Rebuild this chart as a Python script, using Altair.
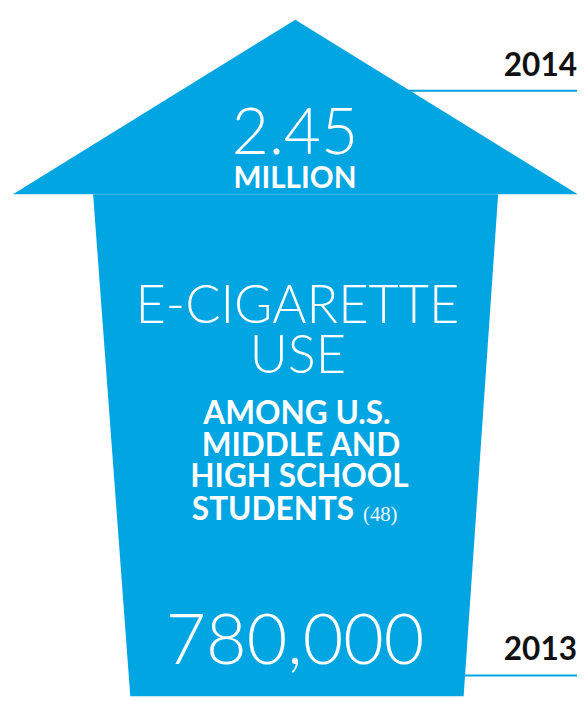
import altair as alt
import pandas as pd

BLUE = "#00a5e1"

# Arrowhead (triangle) outline, page-pixel coordinates
head_x = [13, 299.3, 585.7]
head_top = [192, 15, 192]
head_bottom = [192, 192, 192]

# Arrow body (trapezoid narrowing downward)
body_x = [94.3, 132, 470, 505]
body_top = [192, 192, 192, 192]
body_bottom = [192, 701, 701, 192]

# Year labels and their leader lines
year_labels = ["2014", "2013"]
year_x = [585, 585]
year_y = [72, 664]
rule_y = [87, 680]
rule_x_start = [400, 460]
rule_x_end = [585, 585]

# Light (thin) headline texts
light_labels = ["2.45", "E-CIGARETTE", "USE", "780,000"]
light_x = [299, 301.5, 302, 299]
light_y = [151.5, 323, 373, 668]
light_size = [65, 53, 53, 71]

# Bold white texts
bold_labels = ["MILLION", "AMONG U.S.", "MIDDLE AND", "HIGH SCHOOL"]
bold_x = [299, 301, 305, 303.5]
bold_y = [186, 425, 457, 489]
bold_size = [30, 32, 32, 32]

last_label = ["STUDENTS"]
last_x = [359]
last_y = [522]

ref_label = ["(48)"]
ref_x = [368]
ref_y = [523]

W, H = 579, 693
xs = alt.Scale(domain=[8, 587], zero=False, nice=False)
ys = alt.Scale(domain=[8, 8 + H], zero=False, nice=False, reverse=True)

head_df = pd.DataFrame({"x": head_x, "y": head_top, "y2": head_bottom})
body_df = pd.DataFrame({"x": body_x, "y": body_top, "y2": body_bottom})
rule_df = pd.DataFrame({"x1": rule_x_start, "x2": rule_x_end, "y": rule_y})
year_df = pd.DataFrame({"t": year_labels, "x": year_x, "y": year_y})
light_df = pd.DataFrame({"t": light_labels, "x": light_x, "y": light_y, "s": light_size})
bold_df = pd.DataFrame({"t": bold_labels, "x": bold_x, "y": bold_y, "s": bold_size})
last_df = pd.DataFrame({"t": last_label, "x": last_x, "y": last_y})
ref_df = pd.DataFrame({"t": ref_label, "x": ref_x, "y": ref_y})

rules = alt.Chart(rule_df).mark_rule(color=BLUE, strokeWidth=2).encode(
    x=alt.X("x1:Q", scale=xs, axis=None),
    x2="x2:Q",
    y=alt.Y("y:Q", scale=ys, axis=None),
)


def shape(df):
    return alt.Chart(df).mark_area(color=BLUE, opacity=1, interpolate="linear").encode(
        x=alt.X("x:Q", scale=xs, axis=None),
        y=alt.Y("y:Q", scale=ys, axis=None, stack=None),
        y2="y2:Q",
    )


head = shape(head_df)
body = shape(body_df)

years = alt.Chart(year_df).mark_text(
    font="Lato", fontWeight="bold", fontSize=32, color="#111111", align="right", baseline="alphabetic"
).encode(x=alt.X("x:Q", scale=xs, axis=None), y=alt.Y("y:Q", scale=ys, axis=None), text="t:N")

light = alt.Chart(light_df).mark_text(
    font="Lato", fontWeight=300, color="white", align="center", baseline="alphabetic"
).encode(
    x=alt.X("x:Q", scale=xs, axis=None),
    y=alt.Y("y:Q", scale=ys, axis=None),
    text="t:N",
    size=alt.Size("s:Q", scale=None, legend=None),
)

bold = alt.Chart(bold_df).mark_text(
    font="Lato", fontWeight="bold", color="white", align="center", baseline="alphabetic"
).encode(
    x=alt.X("x:Q", scale=xs, axis=None),
    y=alt.Y("y:Q", scale=ys, axis=None),
    text="t:N",
    size=alt.Size("s:Q", scale=None, legend=None),
)

last = alt.Chart(last_df).mark_text(
    font="Lato", fontWeight="bold", fontSize=32, color="white", align="right", baseline="alphabetic"
).encode(x=alt.X("x:Q", scale=xs, axis=None), y=alt.Y("y:Q", scale=ys, axis=None), text="t:N")

ref = alt.Chart(ref_df).mark_text(
    font="Liberation Serif", fontSize=21, color="#eef7fc", align="left", baseline="alphabetic"
).encode(x=alt.X("x:Q", scale=xs, axis=None), y=alt.Y("y:Q", scale=ys, axis=None), text="t:N")

chart = alt.layer(rules, head, body, years, light, bold, last, ref).properties(
    width=W, height=H, padding=0, autosize=alt.AutoSizeParams(type="none"), background="white"
).configure_view(stroke=None)

chart.save("out.html", embed_options={"renderer": "svg", "actions": False})
